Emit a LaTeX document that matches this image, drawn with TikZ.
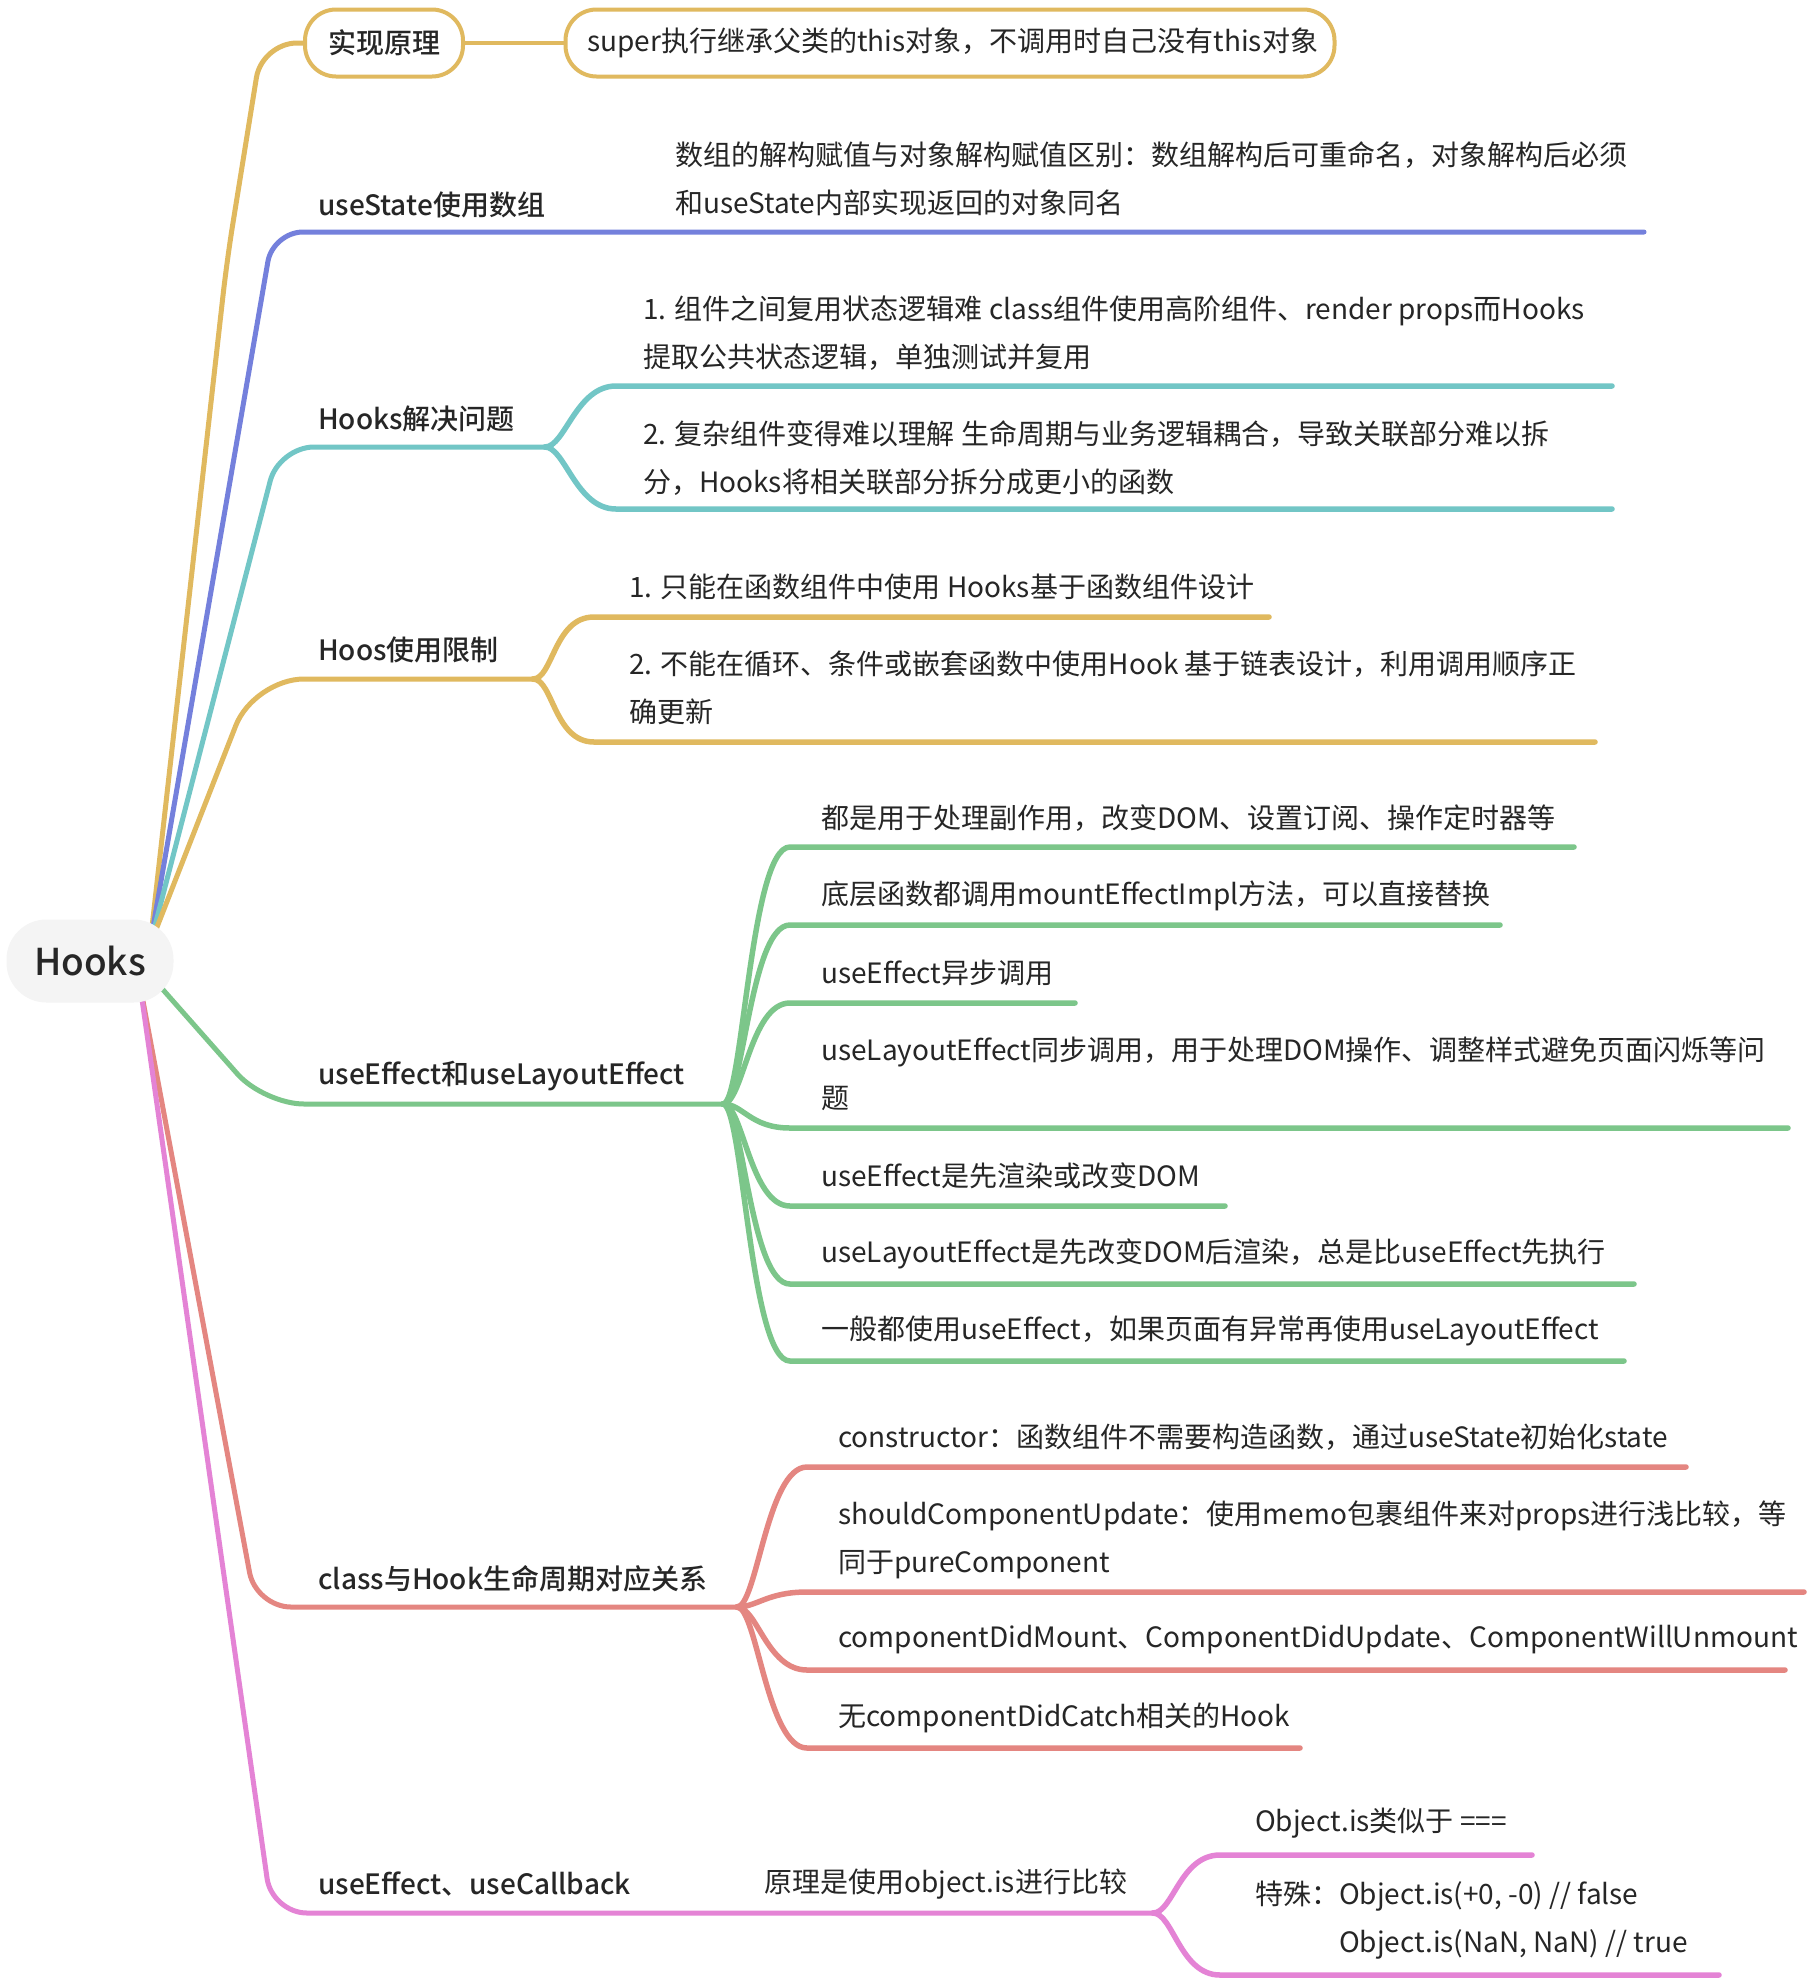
\documentclass[tikz,border=0pt]{standalone}
\usepackage{fontspec}
\setmainfont{Noto Sans CJK SC}
\newfontfamily\medfont{Noto Sans CJK SC Medium}
\usetikzlibrary{positioning, backgrounds}

\definecolor{ink}{HTML}{262626}
\definecolor{rootfill}{HTML}{F4F4F4}
\definecolor{cgold}{HTML}{E0B95F}
\definecolor{cblue}{HTML}{7480DC}
\definecolor{cteal}{HTML}{72C6C6}
\definecolor{cgreen}{HTML}{7CC68A}
\definecolor{cred}{HTML}{E48681}
\definecolor{cpink}{HTML}{E483D5}

\begin{document}
\begin{tikzpicture}[x=1pt, y=-1pt,
  root/.style={rectangle, rounded corners=40pt, fill=rootfill, minimum width=167pt,
               minimum height=83pt, text=ink, font=\fontsize{37}{40}\selectfont\medfont},
  topic/.style={anchor=west, inner sep=0pt, text=ink, font=\fontsize{28}{48}\selectfont\medfont},
  leaf/.style={anchor=west, inner sep=0pt, text=ink, align=left, font=\fontsize{28}{48}\selectfont},
  pill/.style={rectangle, rounded corners=31pt, draw=cgold, fill=white, line width=4pt,
               minimum height=67pt, inner xsep=22pt, text=ink, font=\fontsize{28}{48}\selectfont},
  trunk/.style={line width=5pt, line cap=round, rounded corners=#1},
  twig/.style={line width=5.5pt, line cap=round}
]
  % root
  \node[root] (hooks) at (90,961) {Hooks};
  \coordinate (hooks-n) at (150,945);
  \coordinate (hooks-e) at (150,975);
  \coordinate (hooks-s) at (140,985);

  % 实现原理
  \node[pill, minimum width=158pt, font=\fontsize{28}{48}\selectfont\medfont] (yuanli) at (384,43) {实现原理};
  \node[pill, text width=725pt, align=left] (yuanli-d) at (950,43) {super执行继承父类的this对象，不调用时自己没有this对象};

  % useState
  \node[topic] (usestate) at (318,205) {useState使用数组};
  \node[leaf] (usestate-d) at (675,179) {数组的解构赋值与对象解构赋值区别：数组解构后可重命名，对象解构后必须\\和useState内部实现返回的对象同名};
  \coordinate (usestate-c) at (273,232);
  \coordinate (usestate-e) at (1644,232);

  % Hooks解决问题
  \node[topic] (hq) at (318,419) {Hooks解决问题};
  \node[leaf] (hq1) at (643,333) {1. 组件之间复用状态逻辑难 class组件使用高阶组件、render props而Hooks\\提取公共状态逻辑，单独测试并复用};
  \node[leaf] (hq2) at (643,458) {2. 复杂组件变得难以理解 生命周期与业务逻辑耦合，导致关联部分难以拆\\分，Hooks将相关联部分拆分成更小的函数};
  \coordinate (hq-c) at (279,447);
  \coordinate (hq-e) at (545,447);
  \coordinate (hq1-a) at (616,386); \coordinate (hq1-b) at (1612,386);
  \coordinate (hq2-a) at (616,509); \coordinate (hq2-b) at (1612,509);

  % Hoos使用限制
  \node[topic] (lim) at (318,650) {Hoos使用限制};
  \node[leaf] (lim1) at (629,587) {1. 只能在函数组件中使用 Hooks基于函数组件设计};
  \node[leaf] (lim2) at (629,688) {2. 不能在循环、条件或嵌套函数中使用Hook 基于链表设计，利用调用顺序正\\确更新};
  \coordinate (lim-c) at (254,679);
  \coordinate (lim-e) at (533,679);
  \coordinate (lim1-a) at (594,617); \coordinate (lim1-b) at (1269,617);
  \coordinate (lim2-a) at (594,742); \coordinate (lim2-b) at (1595,742);

  % useEffect和useLayoutEffect
  \node[topic] (eff) at (318,1076) {useEffect和useLayoutEffect};
  \node[leaf] (eff1) at (821,818) {都是用于处理副作用，改变DOM、设置订阅、操作定时器等};
  \node[leaf] (eff2) at (821,896) {底层函数都调用mountEffectImpl方法，可以直接替换};
  \node[leaf] (eff3) at (821,973) {useEffect异步调用};
  \node[leaf] (eff4) at (821,1074) {useLayoutEffect同步调用，用于处理DOM操作、调整样式避免页面闪烁等问\\题};
  \node[leaf] (eff5) at (821,1176) {useEffect是先渲染或改变DOM};
  \node[leaf] (eff6) at (821,1254) {useLayoutEffect是先改变DOM后渲染，总是比useEffect先执行};
  \node[leaf] (eff7) at (821,1331) {一般都使用useEffect，如果页面有异常再使用useLayoutEffect};
  \coordinate (eff-c) at (264,1104);
  \coordinate (eff-e) at (723,1104);
  \coordinate (eff1-a) at (790,847);  \coordinate (eff1-b) at (1574,847);
  \coordinate (eff2-a) at (790,925);  \coordinate (eff2-b) at (1500,925);
  \coordinate (eff3-a) at (790,1003); \coordinate (eff3-b) at (1075,1003);
  \coordinate (eff4-a) at (790,1128); \coordinate (eff4-b) at (1788,1128);
  \coordinate (eff5-a) at (790,1206); \coordinate (eff5-b) at (1225,1206);
  \coordinate (eff6-a) at (790,1284); \coordinate (eff6-b) at (1634,1284);
  \coordinate (eff7-a) at (790,1361); \coordinate (eff7-b) at (1624,1361);

  % class与Hook生命周期
  \node[topic] (life) at (318,1579) {class与Hook生命周期对应关系};
  \node[leaf] (life1) at (838,1437) {constructor：函数组件不需要构造函数，通过useState初始化state};
  \node[leaf] (life2) at (838,1540) {shouldComponentUpdate：使用memo包裹组件来对props进行浅比较，等\\同于pureComponent};
  \node[leaf] (life3) at (838,1640) {componentDidMount、ComponentDidUpdate、ComponentWillUnmount};
  \node[leaf] (life4) at (838,1718) {无componentDidCatch相关的Hook};
  \coordinate (life-c) at (256,1607);
  \coordinate (life-e) at (737,1607);
  \coordinate (life1-a) at (807,1467); \coordinate (life1-b) at (1686,1467);
  \coordinate (life2-a) at (807,1592); \coordinate (life2-b) at (1804,1592);
  \coordinate (life3-a) at (807,1670); \coordinate (life3-b) at (1785,1670);
  \coordinate (life4-a) at (807,1748); \coordinate (life4-b) at (1300,1748);

  % useEffect、useCallback
  \node[topic] (cb) at (318,1884) {useEffect、useCallback};
  \node[leaf] (cb-d) at (764,1884) {原理是使用object.is进行比较};
  \node[leaf] (is1) at (1255,1823) {Object.is类似于 ===};
  \node[leaf] (is2) at (1255,1920) {特殊：Object.is(+0, -0) // false\\\phantom{特殊：}Object.is(NaN, NaN) // true};
  \coordinate (cb-c) at (272,1913);
  \coordinate (cb-e) at (1153,1913);
  \coordinate (is1-a) at (1220,1855); \coordinate (is1-b) at (1532,1855);
  \coordinate (is2-a) at (1220,1975); \coordinate (is2-b) at (1719,1975);

  \begin{scope}[on background layer]
    \path[use as bounding box, fill=white] (0,0) rectangle (1808,1979);

    \draw[trunk=35, cgold] (hooks-n) -- (227,260) -- (262,43) -- (yuanli.west);
    \draw[cgold, line width=3.5pt] (yuanli) -- (yuanli-d);

    \draw[trunk=30, cblue] (hooks-n) -- (usestate-c) -- (usestate-e);

    \draw[trunk=35, cteal] (hooks-n) -- (hq-c) -- (hq-e);
    \draw[twig, cteal] (hq-e) .. controls +(20,0) and +(-40,0) .. (hq1-a) -- (hq1-b);
    \draw[twig, cteal] (hq-e) .. controls +(20,0) and +(-40,0) .. (hq2-a) -- (hq2-b);

    \draw[trunk=50, cgold] (hooks-n) -- (lim-c) -- (lim-e);
    \draw[twig, cgold] (lim-e) .. controls +(20,0) and +(-40,0) .. (lim1-a) -- (lim1-b);
    \draw[twig, cgold] (lim-e) .. controls +(20,0) and +(-40,0) .. (lim2-a) -- (lim2-b);

    \draw[trunk=40, cgreen] (hooks-e) -- (eff-c) -- (eff-e);
    \draw[twig, cgreen] (eff-e) .. controls +(20,0) and +(-40,0) .. (eff1-a) -- (eff1-b);
    \draw[twig, cgreen] (eff-e) .. controls +(20,0) and +(-40,0) .. (eff2-a) -- (eff2-b);
    \draw[twig, cgreen] (eff-e) .. controls +(20,0) and +(-40,0) .. (eff3-a) -- (eff3-b);
    \draw[twig, cgreen] (eff-e) .. controls +(20,0) and +(-40,0) .. (eff4-a) -- (eff4-b);
    \draw[twig, cgreen] (eff-e) .. controls +(20,0) and +(-40,0) .. (eff5-a) -- (eff5-b);
    \draw[twig, cgreen] (eff-e) .. controls +(20,0) and +(-40,0) .. (eff6-a) -- (eff6-b);
    \draw[twig, cgreen] (eff-e) .. controls +(20,0) and +(-40,0) .. (eff7-a) -- (eff7-b);

    \draw[trunk=35, cred] (hooks-s) -- (life-c) -- (life-e);
    \draw[twig, cred] (life-e) .. controls +(20,0) and +(-40,0) .. (life1-a) -- (life1-b);
    \draw[twig, cred] (life-e) .. controls +(20,0) and +(-40,0) .. (life2-a) -- (life2-b);
    \draw[twig, cred] (life-e) .. controls +(20,0) and +(-40,0) .. (life3-a) -- (life3-b);
    \draw[twig, cred] (life-e) .. controls +(20,0) and +(-40,0) .. (life4-a) -- (life4-b);

    \draw[trunk=35, cpink] (hooks-s) -- (cb-c) -- (cb-e);
    \draw[twig, cpink] (cb-e) .. controls +(20,0) and +(-40,0) .. (is1-a) -- (is1-b);
    \draw[twig, cpink] (cb-e) .. controls +(20,0) and +(-40,0) .. (is2-a) -- (is2-b);
  \end{scope}
\end{tikzpicture}
\end{document}
